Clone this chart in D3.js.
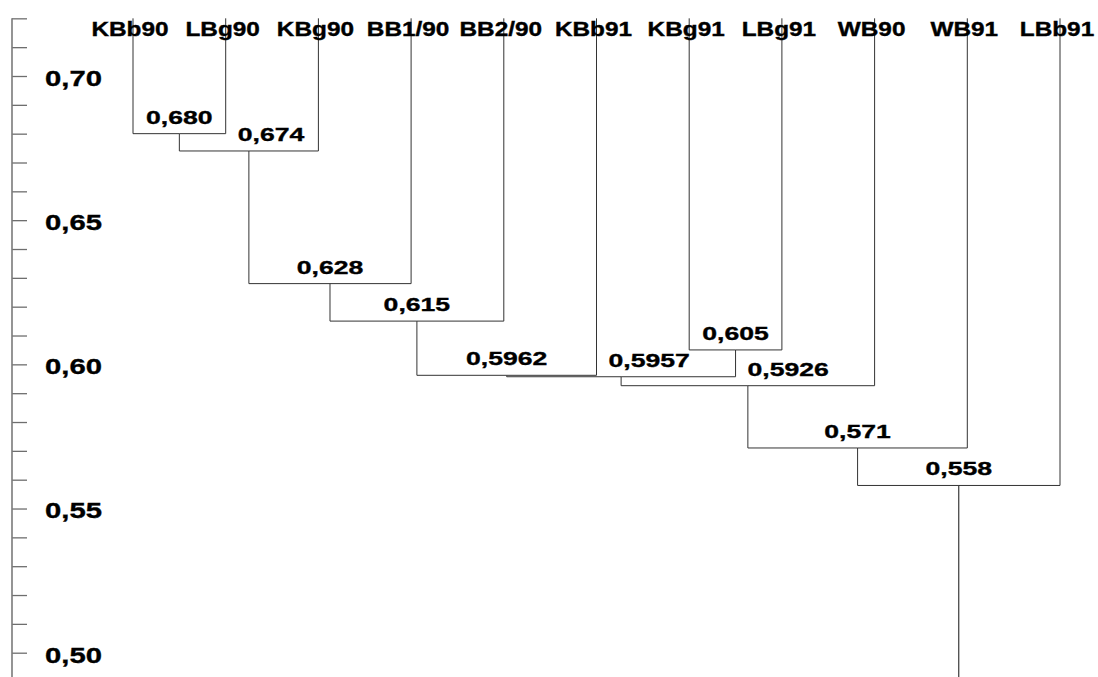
<!DOCTYPE html>
<html>
<head>
<meta charset="utf-8">
<script src="https://cdn.jsdelivr.net/npm/d3@7"></script>
<style>
  html, body { margin: 0; padding: 0; background: #fff; }
  svg { display: block; }
  text { font-family: "Liberation Sans", Arial, Helvetica, sans-serif; font-weight: bold; fill: #000; stroke: #000; stroke-width: 0.35px; }
</style>
</head>
<body>
<svg id="chart" width="1098" height="677"></svg>
<script>
// Leaf order along the top of the dendrogram
const leaves = ["KBb90", "LBg90", "KBg90", "BB1/90", "BB2/90", "KBb91", "KBg91", "LBg91", "WB90", "WB91", "LBb91"];

// Agglomeration steps: a child is a leaf name or the index of an earlier step
const mergeLeft  = ["KBb90", 0, 1, 2, 3, "KBg91", 4, 6, 7, 8];
const mergeRight = ["LBg90", "KBg90", "BB1/90", "BB2/90", "KBb91", "LBg91", 5, "WB90", "WB91", "LBb91"];
// Similarity at which each step joins
const mergeLabels = ["0,680", "0,674", "0,628", "0,615", "0,5962", "0,605", "0,5957", "0,5926", "0,571", "0,558"];

// Similarity axis
const axisMinorTicks = d3.range(50, 73).map(d => d / 100);
const axisMajorTicks = [0.50, 0.55, 0.60, 0.65, 0.70];
const leafLevel = 0.72;

const W = 1098, H = 677;
const svg = d3.select("#chart");

const y = d3.scaleLinear().domain([0.50, 0.70]).range([652.7, 76]);
const x = d3.scalePoint().domain(leaves).range([133, 1060]);

const comma = d3.formatLocale({ decimal: ",", thousands: ".", grouping: [3], currency: ["", ""] });
const fmtAxis = comma.format(".2f");

// ---- build hierarchy from merge steps ----
const mergeValue = mergeLabels.map(s => +s.replace(",", "."));
const nodes = mergeLabels.map((lab, i) => ({ name: "m" + i, label: lab, value: mergeValue[i], children: [] }));
const asNode = c => (typeof c === "number") ? nodes[c] : { name: c, value: leafLevel };
nodes.forEach((n, i) => { n.children = [asNode(mergeLeft[i]), asNode(mergeRight[i])]; });
const root = d3.hierarchy(nodes[nodes.length - 1]);

// leaves on the point scale, each join centred over its two branches
root.eachAfter(d => {
  d.px = d.children ? d3.mean(d.children, c => c.px) : x(d.data.name);
  d.py = y(d.data.value);
});

// ---- axis ----
const axisX = 12;
const gAxis = svg.append("g").attr("transform", `translate(${axisX},0)`);
gAxis.call(d3.axisRight(y).tickValues(axisMinorTicks).tickSize(15).tickSizeOuter(0).tickFormat(""))
  .call(g => g.select(".domain").remove())
  .call(g => g.selectAll(".tick line").attr("stroke", "#6e6e6e").attr("stroke-width", 1.3));
gAxis.append("line")
  .attr("x1", 0).attr("x2", 0)
  .attr("y1", y(leafLevel)).attr("y2", H)
  .attr("stroke", "#7a7a7a").attr("stroke-width", 1.6);

gAxis.selectAll("text.major")
  .data(axisMajorTicks)
  .join("text")
  .attr("class", "major")
  .attr("transform", d => `translate(33,${y(d) + 9.8}) scale(1.3,1)`)
  .attr("font-size", 22.5)
  .text(d => fmtAxis(d));

// ---- dendrogram links ----
const gTree = svg.append("g");
gTree.selectAll("path.link")
  .data(root.links())
  .join("path")
  .attr("class", "link")
  .attr("fill", "none")
  .attr("stroke", "#333")
  .attr("stroke-width", 1)
  .attr("d", l => `M${l.target.px},${l.target.py}V${l.source.py}H${l.source.px}`);

// root stem running to the bottom of the plot
gTree.append("path")
  .attr("fill", "none").attr("stroke", "#111").attr("stroke-width", 1)
  .attr("d", `M${root.px},${root.py}V${H}`);

// ---- leaf names ----
svg.selectAll("text.leaf")
  .data(root.leaves())
  .join("text")
  .attr("class", "leaf")
  .attr("text-anchor", "middle")
  .attr("font-size", 19.5)
  .attr("transform", d => `translate(${d.px - 3},35.7) scale(1.25,1)`)
  .text(d => d.data.name);

// ---- merge labels, nudged right of any connector they would cross ----
const verticals = root.links().map(l => ({ x: l.target.px, y0: l.target.py, y1: l.source.py }));
const labelSize = 19, labelScale = 1.4;
const gLab = svg.append("g");
root.descendants().filter(d => d.children).forEach(d => {
  const t = gLab.append("text")
    .attr("font-size", labelSize)
    .attr("text-anchor", "middle")
    .text(d.data.label);
  const w = t.node().getComputedTextLength() * labelScale;
  const base = d.py - 10;
  const top = base - 14;
  const left = d3.min(d.children, c => c.px), right = d3.max(d.children, c => c.px);
  let cx = (left + right) / 2;
  verticals.forEach(v => {
    const crossesY = v.y0 < base && v.y1 > top;
    if (crossesY && v.x > cx - w / 2 - 4 && v.x < cx + w / 2 + 4 && v.x !== left && v.x !== right) {
      cx = v.x + 12 + w / 2;
    }
  });
  t.attr("transform", `translate(${cx},${base}) scale(${labelScale},1)`);
});
</script>
</body>
</html>
